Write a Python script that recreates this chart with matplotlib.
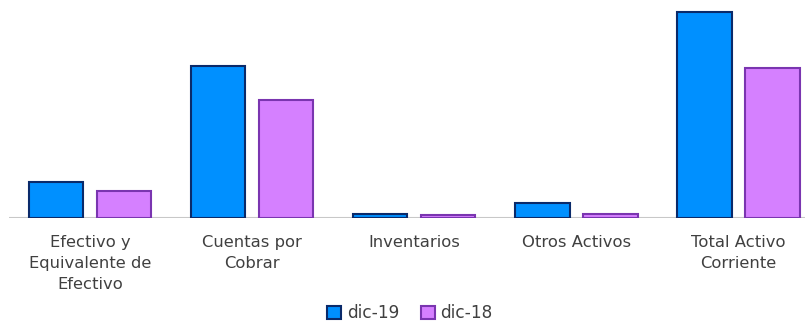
import matplotlib
matplotlib.use("Agg")
import matplotlib.pyplot as plt
import numpy as np

plt.rcParams["font.family"] = ["DejaVu Sans"]

categories = ["Efectivo y\nEquivalente de\nEfectivo", "Cuentas por\nCobrar", "Inventarios",
              "Otros Activos", "Total Activo\nCorriente"]
dic19 = [36, 152, 4, 15, 206]
dic18 = [27, 118, 3, 4, 150]
series_names = ["dic-19", "dic-18"]

fig = plt.figure(figsize=(8.05, 3.22), dpi=100)
ax = fig.add_axes([9 / 805, 104 / 322, 796 / 805, 214 / 322])

x = np.arange(len(categories))
w = 0.335
off = 0.21
ax.bar(x - off, dic19, w, color="#0090FF", edgecolor="#0A2A6A", linewidth=1.5,
       label=series_names[0], zorder=3)
ax.bar(x + off, dic18, w, color="#D580FF", edgecolor="#7A35B0", linewidth=1.5,
       label=series_names[1], zorder=3)

ax.set_xlim(-0.5, 4.41)
ax.set_ylim(0, 214)
ax.axhline(0, color="#C8C8C8", linewidth=1.5, zorder=2)
for s in ax.spines.values():
    s.set_visible(False)
ax.set_yticks([])
ax.set_xticks([])
for xi, lab in zip(x, categories):
    ax.text(xi, -0.08, lab, transform=ax.get_xaxis_transform(), ha="center", va="top",
            fontsize=11.8, color="#404040", linespacing=1.5)

leg = fig.legend(loc="center", bbox_to_anchor=(410 / 805, 1 - 313 / 322), ncol=2,
                 frameon=False, fontsize=12.2, handlelength=0.8, handleheight=0.8,
                 handletextpad=0.35, columnspacing=1.3, labelcolor="#404040")
fig.savefig("out.png", dpi=100)
